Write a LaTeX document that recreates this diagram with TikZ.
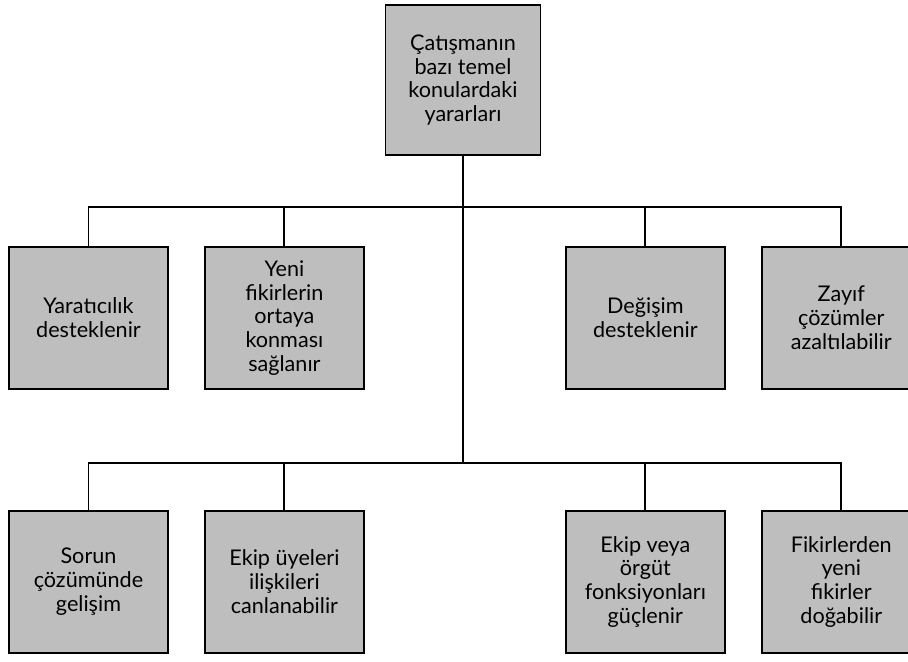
\documentclass[tikz,border=0pt]{standalone}
\usepackage{fontspec}
\setmainfont{Lato}
\usepackage{tikz}
\usetikzlibrary{positioning}
\definecolor{boxgray}{RGB}{190,190,190}
\tikzset{
    every picture/.style={line width=1.1pt}, % black lines everywhere
    benefit/.style={draw, fill=boxgray, align=center, inner sep=2pt,
        minimum width=3.18cm, minimum height=2.84cm,
        font=\fontsize{12.3}{13.6}\selectfont}, % the grey boxes
    rootbox/.style={benefit, minimum width=3.1cm, minimum height=3cm}, % the top box
    node distance=0.7cm, % gap between two boxes of a pair
}
\begin{document}
\begin{tikzpicture}
\useasboundingbox (0,0) rectangle (18.16,-13.22);
% top box
\node[rootbox] (root) at (9.26,-1.6) {Çatışmanın\\bazı temel\\konulardaki\\yararları};
% first row
\node[benefit] (b1) at (1.77,-6.36) {Yaratıcılık\\desteklenir};
\node[benefit, right=of b1] (b2) {Yeni\\fikirlerin\\ortaya\\konması\\sağlanır};
\node[benefit, right=4cm of b2] (b3) {Değişim\\desteklenir};
\node[benefit, right=of b3] (b4) {Zayıf\\çözümler\\azaltılabilir};
% second row
\node[benefit, below=2.4cm of b1] (b5) {Sorun\\çözümünde\\gelişim};
\node[benefit, right=of b5] (b6) {Ekip üyeleri\\ilişkileri\\canlanabilir};
\node[benefit, right=4cm of b6] (b7) {Ekip veya\\örgüt\\fonksiyonları\\güçlenir};
\node[benefit, right=of b7] (b8) {Fikirlerden\\yeni\\fikirler\\doğabilir};
% connectors
\coordinate (bus1) at (9.26,-4.14);
\coordinate (bus2) at (9.26,-9.26);
\draw (root.south) -- (bus2);
\draw (b1.north) |- (bus1) -| (b4.north);
\draw (b2.north) -- (b2.north |- bus1);
\draw (b3.north) -- (b3.north |- bus1);
\draw (b5.north) |- (bus2) -| (b8.north);
\draw (b6.north) -- (b6.north |- bus2);
\draw (b7.north) -- (b7.north |- bus2);
\end{tikzpicture}
\end{document}
